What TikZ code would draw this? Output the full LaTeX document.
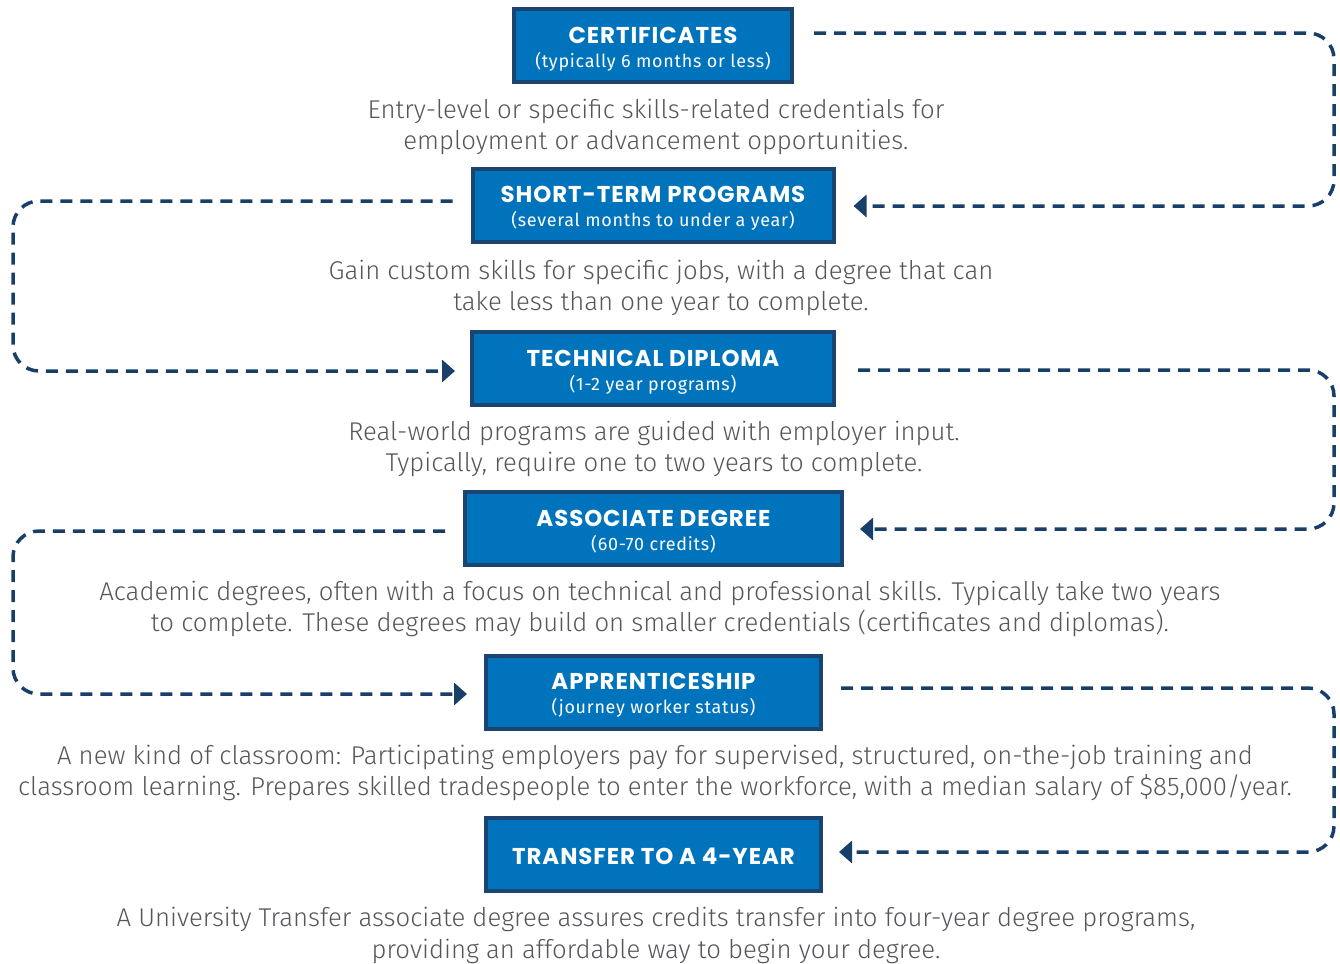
\documentclass[tikz,border=0pt]{standalone}
\usepackage{fontspec}
\setmainfont{Fira Sans}[UprightFont={* Light}]
\newfontfamily\titlefont{Poppins}[LetterSpace=4]
\newfontfamily\subfont{Fira Sans}[LetterSpace=4]
\usetikzlibrary{arrows.meta,calc}
\definecolor{boxblue}{HTML}{0073BD}
\definecolor{boxedge}{HTML}{1B4470}
\definecolor{linenavy}{HTML}{173F69}
\definecolor{txtgray}{HTML}{55565A}
\tikzset{
  stage/.style={draw=boxedge, line width=4bp, fill=boxblue, inner sep=0pt, minimum height=73bp},
  boxtext/.style={text=white, align=center, inner sep=0pt},
  desc/.style={text=txtgray, align=center, inner sep=0pt, font=\fontsize{25.8}{32}\selectfont},
  conn/.style={draw=linenavy, line width=3.5bp, dash pattern=on 12bp off 8bp, rounded corners=26bp},
  tip/.style={-{Triangle[length=13bp,width=22bp]}},
}
\newcommand{\ttl}[1]{{\titlefont\bfseries\fontsize{23}{24}\selectfont #1}}
\newcommand{\sbt}[1]{{\subfont\fontsize{18}{18}\selectfont #1}}
\begin{document}
\begin{tikzpicture}[x=1bp,y=-1bp]
\useasboundingbox (0,0) rectangle (1340,963);
% boxes
\node[stage, minimum width=278bp] (c1) at (653,45.5) {};
\node[stage, minimum width=361bp] (c2) at (653,205) {};
\node[stage, minimum width=362bp] (c3) at (653,368.5) {};
\node[stage, minimum width=377bp] (c4) at (653.5,528) {};
\node[stage, minimum width=335bp] (c5) at (653.5,692) {};
\node[stage, minimum width=335bp] (c6) at (653.5,854.5) {};
% box texts
\node[boxtext] (l1) at ($(c1.center)+(0,3.5)$) {\ttl{CERTIFICATES}\\[8bp]\sbt{(typically 6 months or less)}};
\node[boxtext] (l2) at ($(c2.center)+(0,3.5)$) {\ttl{SHORT-TERM PROGRAMS}\\[8bp]\sbt{(several months to under a year)}};
\node[boxtext] (l3) at ($(c3.center)+(0,3.5)$) {\ttl{TECHNICAL DIPLOMA}\\[8bp]\sbt{(1-2 year programs)}};
\node[boxtext] (l4) at ($(c4.center)+(0,3.5)$) {\ttl{ASSOCIATE DEGREE}\\[8bp]\sbt{(60-70 credits)}};
\node[boxtext] (l5) at ($(c5.center)+(0,3.5)$) {\ttl{APPRENTICESHIP}\\[8bp]\sbt{(journey worker status)}};
\node[boxtext] (l6) at ($(c6.center)+(0,2)$) {\ttl{TRANSFER TO A 4-YEAR}};
% descriptions
\node[desc] (t1) at (656,127) {Entry-level or specific skills-related credentials for\\employment or advancement opportunities.};
\node[desc] (t2) at (661,288) {Gain custom skills for specific jobs, with a degree that can\\take less than one year to complete.};
\node[desc] (t3) at (654,449) {Real-world programs are guided with employer input.\\Typically, require one to two years to complete.};
\node[desc] (t4) at (660,609) {Academic degrees, often with a focus on technical and professional skills. Typically take two years\\to complete. These degrees may build on smaller credentials (certificates and diplomas).};
\node[desc] (t5) at (655,773) {A new kind of classroom: Participating employers pay for supervised, structured, on-the-job training and\\classroom learning. Prepares skilled tradespeople to enter the workforce, with a median salary of \$85,000/year.};
\node[desc] (t6) at (656,935) {A University Transfer associate degree assures credits transfer into four-year degree programs,\\providing an affordable way to begin your degree.};
% connectors
\coordinate (s1) at ($(c1.east)+(20,-12.5)$);
\coordinate (e1) at ($(c2.east)+(18,1)$);
\draw[conn, tip] (s1) -- (1334,33) -- (1334,206) -- (e1);
\coordinate (s2) at ($(c2.west)+(-18,-4)$);
\coordinate (e2) at ($(c3.west)+(-15,2.5)$);
\draw[conn, tip] (s2) -- (13,201) -- (13,371) -- (e2);
\coordinate (s3) at ($(c3.east)+(22,1.5)$);
\coordinate (e3) at ($(c4.east)+(16,1)$);
\draw[conn, tip] (s3) -- (1334,370) -- (1334,529) -- (e3);
\coordinate (s4) at ($(c4.west)+(-18,3)$);
\coordinate (e4) at ($(c5.west)+(-17,2)$);
\draw[conn, tip] (s4) -- (13,531) -- (13,694) -- (e4);
\coordinate (s5) at ($(c5.east)+(18,-4)$);
\coordinate (e5) at ($(c6.east)+(16,-2.5)$);
\draw[conn, tip] (s5) -- (1334,688) -- (1334,852) -- (e5);
\end{tikzpicture}
\end{document}
